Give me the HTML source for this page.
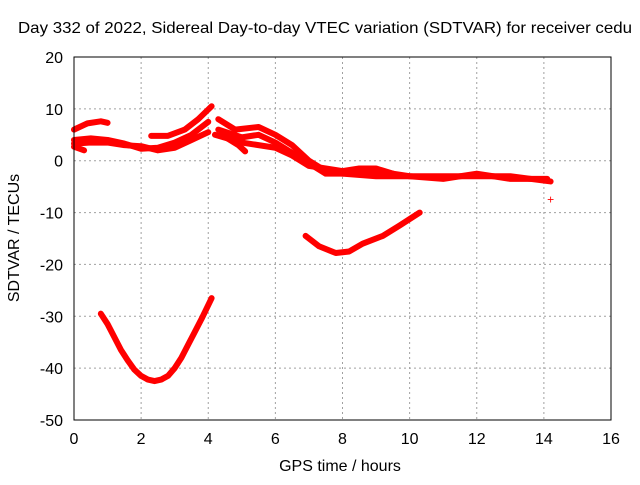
<!DOCTYPE html>
<html><head><meta charset="utf-8"><style>
body{margin:0;background:#fff}
svg text{font-family:"Liberation Sans",sans-serif;fill:#000}
</style></head><body>
<svg width="640" height="480" viewBox="0 0 640 480">
<rect width="640" height="480" fill="#fff"/>
<text x="18" y="33" font-size="16" textLength="614" lengthAdjust="spacingAndGlyphs">Day 332 of 2022, Sidereal Day-to-day VTEC variation (SDTVAR) for receiver cedu</text>
<g id="grid"></g>
<g id="ticks"></g>
<g id="series"></g>
<rect x="74" y="57" width="537" height="363" fill="none" stroke="#000" stroke-width="1"/>
<text x="340" y="471" font-size="16" text-anchor="middle">GPS time / hours</text>
<text transform="translate(19,238) rotate(-90)" font-size="16" text-anchor="middle">SDTVAR / TECUs</text>
</svg>
<script>
const xTicks=[0,2,4,6,8,10,12,14,16];
const yTicks=[20,10,0,-10,-20,-30,-40,-50];
const strandA=[[0,6],[0.4,7.2],[0.8,7.6],[1.0,7.3]];
const strandB=[[0,4],[0.5,4.3],[1,4],[1.5,3.3],[2,2.3],[2.5,2.5],[3,3.5],[3.5,5],[4,7.5]];
const strandC=[[0,3.3],[0.5,3.5],[1,3.5],[1.5,3],[2,2.8],[2.5,2],[3,2.5],[3.5,4],[4,5.5]];
const strandD=[[2.3,4.8],[2.8,4.8],[3.3,6],[3.7,8],[4.1,10.5]];
const strandE=[[0,2.7],[0.3,2]];
const strandF=[[4.3,8],[4.8,6],[5.5,6.5],[6,5],[6.5,3],[7,0],[7.5,-2],[8,-2.5],[9,-2],[10,-3],[11,-3.5],[12,-2.5],[13,-3.5],[14.1,-3.5]];
const strandG=[[4.3,6],[5,4.5],[5.5,5],[6,3.5],[6.5,1.5],[7,-0.5],[7.5,-2.5],[8,-2.5],[9,-3],[10,-3],[11,-3],[12,-3],[13,-3],[14.2,-4]];
const strandH=[[4.2,5],[5,3.5],[6,2.5],[6.5,1],[7,-1],[8,-2],[8.5,-1.5],[9,-1.5],[9.5,-2.5]];
const strandI=[[4.4,5],[4.9,3],[5.1,1.8]];
const strandJ=[[6.9,-14.5],[7.3,-16.5],[7.8,-17.8],[8.2,-17.5],[8.6,-16],[9.2,-14.5],[9.7,-12.5],[10.3,-10]];
const strandK=[[0.8,-29.5],[1.0,-31.5],[1.2,-34],[1.4,-36.5],[1.6,-38.5],[1.8,-40.3],[2,-41.5],[2.2,-42.2],[2.4,-42.5],[2.6,-42.2],[2.8,-41.5],[3.0,-40],[3.2,-38],[3.4,-35.5],[3.6,-33],[3.8,-30.5],[4.1,-26.5]];
const lonePoint=[[14.2,-7.5]];
const strands=[strandA,strandB,strandC,strandD,strandE,strandF,strandG,strandH,strandI,strandJ,strandK];
const X0=74,X1=611,Y0=420,Y1=57,xmin=0,xmax=16,ymin=-50,ymax=20;
const sx=v=>X0+(v-xmin)/(xmax-xmin)*(X1-X0);
const sy=v=>Y0-(v-ymin)/(ymax-ymin)*(Y0-Y1);
const NS='http://www.w3.org/2000/svg';
const grid=document.getElementById('grid'),ticks=document.getElementById('ticks'),ser=document.getElementById('series');
function mk(t,a,p){const e=document.createElementNS(NS,t);for(const k in a)e.setAttribute(k,a[k]);p.appendChild(e);return e;}
xTicks.forEach(v=>{
 const x=sx(v);
 if(v>xmin&&v<xmax){const l=mk('line',{x1:x,x2:x,y1:Y1,y2:Y0,stroke:'#a0a0a0','stroke-dasharray':'2,3'},grid);
 
 }
 const t=mk('text',{x:x,y:444,'font-size':16,'text-anchor':'middle'},ticks);t.textContent=v;
 
 
});
yTicks.forEach(v=>{
 const y=sy(v);
 if(v>ymin&&v<ymax){const l=mk('line',{x1:X0,x2:X1,y1:y,y2:y,stroke:'#a0a0a0','stroke-dasharray':'2,3'},grid);
 
 }
 const t=mk('text',{x:63,y:y+6,'font-size':16,'text-anchor':'end'},ticks);t.textContent=v;
 
 
});
strands.forEach(s=>{
 const p=mk('polyline',{points:s.map(d=>sx(d[0])+','+sy(d[1])).join(' '),fill:'none',stroke:'#f00','stroke-width':6,'stroke-linejoin':'round','stroke-linecap':'round'},ser);
 
 
});
lonePoint.forEach(d=>{
 const t=mk('text',{x:sx(d[0]),y:sy(d[1])+4,'font-size':12,'text-anchor':'middle',style:'fill:#f00'},ser);t.textContent='+';
 
 
});
</script>
</body></html>
